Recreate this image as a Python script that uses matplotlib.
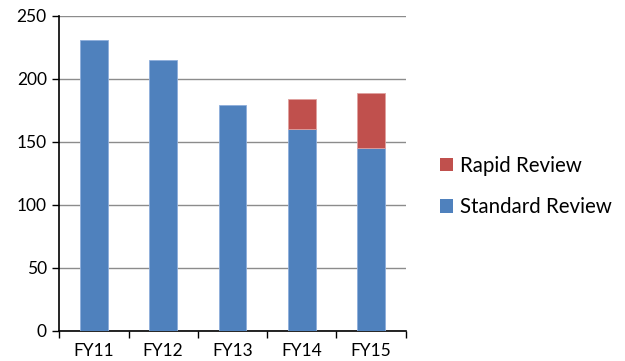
import matplotlib
matplotlib.use("Agg")
import matplotlib.pyplot as plt
from matplotlib.patches import Patch

years = ["FY11", "FY12", "FY13", "FY14", "FY15"]
standard_review = [231, 215, 179, 160, 145]
rapid_review = [0, 0, 0, 24, 44]

blue = "#4F81BD"
red = "#C0504D"

plt.rcParams["font.family"] = ["Lato", "DejaVu Sans"]

fig = plt.figure(figsize=(6.25, 3.61), dpi=100)
ax = fig.add_axes([0.0949, 0.0839, 0.554, 0.8726])

x = list(range(len(years)))
ax.bar(x, standard_review, width=0.4, color=blue, edgecolor="#8EAEDB", linewidth=0.6, zorder=3)
rx = [i for i, v in zip(x, rapid_review) if v > 0]
rv = [v for v in rapid_review if v > 0]
rb = [s for s, v in zip(standard_review, rapid_review) if v > 0]
ax.bar(rx, rv, width=0.4, bottom=rb, color=red, edgecolor="#E0A09E", linewidth=0.6, zorder=3)

ax.set_xlim(-0.5, len(years) - 0.5)
ax.set_ylim(0, 250)
ax.set_yticks(range(0, 251, 50))
ax.tick_params(axis="y", labelsize=12.5, length=5, width=1, direction="out", colors="black", pad=4)
ax.yaxis.grid(True, color="#8C8C8C", linewidth=1.0, zorder=0)

# category labels centred, tick marks at category boundaries
ax.set_xticks(x)
ax.set_xticklabels(years, fontsize=12.5)
ax.tick_params(axis="x", length=0, pad=9)
ax.set_xticks([i - 0.5 for i in range(len(years) + 1)], minor=True)
ax.tick_params(axis="x", which="minor", length=5, width=1, direction="out")

for side in ("top", "right"):
    ax.spines[side].set_visible(False)
for side in ("left", "bottom"):
    ax.spines[side].set_color("black")
    ax.spines[side].set_linewidth(1.2)

handles = [Patch(facecolor=red, edgecolor="none"), Patch(facecolor=blue, edgecolor="none")]
fig.legend(handles, ["Rapid Review", "Standard Review"], loc="center left",
           bbox_to_anchor=(0.704, 0.483), frameon=False, fontsize=14.8,
           handlelength=0.65, handleheight=0.65, handletextpad=0.3, labelspacing=1.05,
           borderpad=0, borderaxespad=0)

fig.savefig("out.png", dpi=100)
